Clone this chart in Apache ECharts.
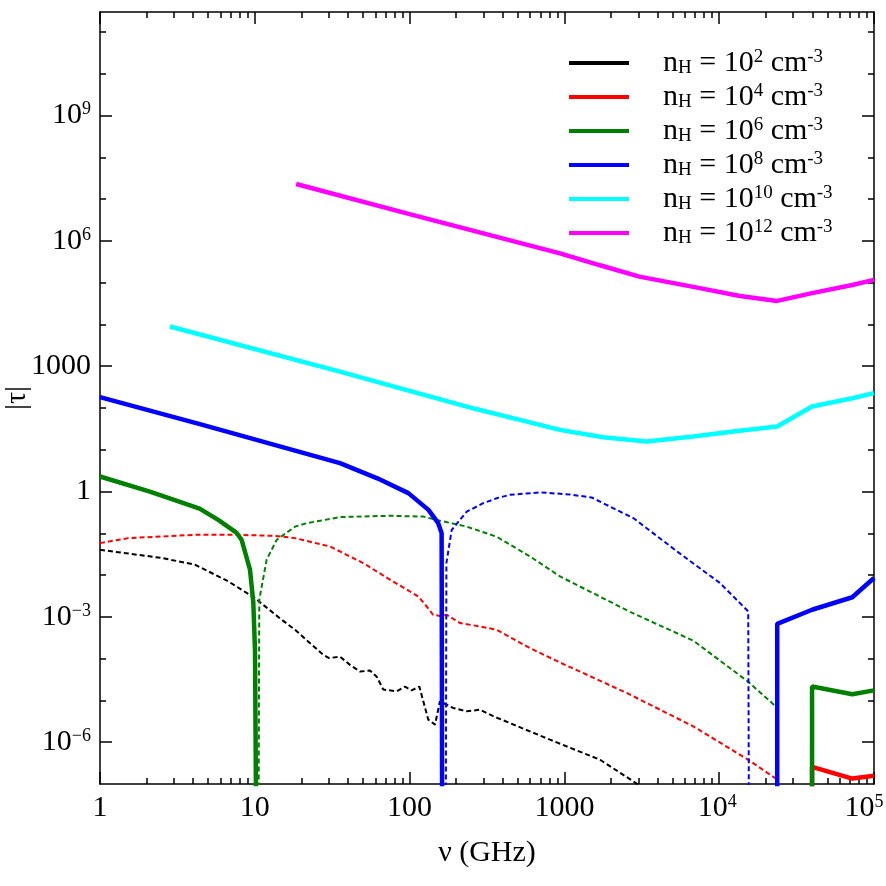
<!DOCTYPE html>
<html>
<head>
<meta charset="utf-8">
<script src="https://cdn.jsdelivr.net/npm/echarts@6/dist/echarts.min.js"></script>
<style>
  html, body { margin: 0; padding: 0; background: #fff; }
  #chart-container { width: 886px; height: 886px; }
</style>
</head>
<body>
<div id="chart-container"></div>
<script>
var FONT = '"Liberation Serif", "DejaVu Serif", serif';

// densities n_H = 10^exp cm^-3, one colour each
var densityExp = [2, 4, 6, 8, 10, 12];
var lineColors = ["#000000", "#ff0000", "#008000", "#0000ff", "#00ffff", "#ff00ff"];

// tick labels
var xMajorTicks = [1, 10, 100, 1000, 1e4, 1e5];
var xTickLabels = ["1", "10", "100", "1000", "10^4", "10^5"];
var yMajorTicks = [1e-6, 1e-3, 1, 1e3, 1e6, 1e9];
var yTickLabels = ["10^\u22126", "10^\u22123", "1", "1000", "10^6", "10^9"];

// |tau| against nu (GHz). "neg" parts (tau < 0) are dashed, "pos" parts solid
var n2neg = [[1, 0.0403], [2.5, 0.0257], [4.1, 0.0178], [6.74, 0.00708], [10, 0.00282],
  [14.5, 9.3e-4], [18.2, 4.9e-4], [27.7, 1.23e-4], [30.2, 1.03e-4], [35.5, 1.12e-4],
  [41.2, 7.1e-5], [47.9, 4.9e-5], [55.5, 5.2e-5], [61.3, 3.7e-5], [67.6, 1.82e-5],
  [82.6, 1.66e-5], [93.4, 2.14e-5], [103, 1.74e-5], [115.6, 2.14e-5], [132, 3.47e-6],
  [146, 2.63e-6], [157, 9.5e-6], [191, 6.6e-6], [234, 5.5e-6], [285, 6.0e-6],
  [347, 4.2e-6], [807, 1.15e-6], [1700, 3.8e-7], [2960, 1.0e-7], [4500, 3e-8]];

var n4neg = [[1, 0.0582], [1.52, 0.0767], [4.1, 0.092], [7.45, 0.092], [13.5, 0.087],
  [18.2, 0.0767], [30.6, 0.0483], [50.2, 0.0194], [74.7, 0.00776], [113.8, 0.00309],
  [128.8, 0.00178], [142, 0.00112], [158, 0.00105], [174, 0.00112], [212, 7.1e-4],
  [285, 5.9e-4], [365, 4.9e-4], [600, 1.78e-4], [937, 8.1e-5], [2525, 1.51e-5],
  [6800, 2.4e-6], [15400, 3.8e-7], [23000, 1.38e-7]];
var n4pos = [[39800, 1e-9], [39800, 2.57e-7], [72400, 1.35e-7], [1e5, 1.58e-7]];

var n6pos = [[1, 2.29], [2.1, 1.0], [4.4, 0.39], [5.8, 0.209], [7.64, 0.102], [8.23, 0.069],
  [9.31, 0.0135], [9.78, 0.0022], [10.03, 1.6e-4], [10.25, 1e-9]];
var n6neg = [[10.55, 1e-9], [10.69, 2.57e-3], [11.09, 5.4e-3], [11.93, 0.0234],
  [13.84, 0.0698], [18.2, 0.1445], [21.6, 0.174], [35.5, 0.245], [74.7, 0.263],
  [122.7, 0.251], [150, 0.209], [234, 0.1445], [365, 0.083], [600, 0.0279],
  [937, 9.3e-3], [2650, 1.32e-3], [6800, 2.7e-4], [15400, 2.8e-5], [23000, 7.4e-6]];
var n6pos2 = [[39800, 1e-9], [39800, 2.16e-5], [72400, 1.41e-5], [1e5, 1.74e-5]];

var n8pos = [[1, 182], [4.54, 39.8], [35.5, 4.79], [61.9, 2.07], [98.2, 0.916],
  [132.4, 0.364], [153, 0.175], [161, 0.101], [162.5, 1e-9]];
var n8neg = [[171, 1e-9], [172.9, 0.0195], [187, 0.12], [234, 0.331], [299, 0.525],
  [365, 0.69], [445, 0.834], [695, 0.955], [1087, 0.85], [1500, 0.72], [2800, 0.229],
  [5500, 0.034], [10100, 6.5e-3], [15400, 1.35e-3], [15600, 1e-9]];
var n8pos2 = [[23700, 1e-9], [23700, 6.8e-4], [39800, 1.48e-3], [72400, 2.95e-3], [1e5, 8.5e-3]];

var n10pos = [[2.83, 8900], [35.5, 741], [100, 257], [265, 95.5], [516, 52], [937, 29.9],
  [1780, 20], [3400, 15.7], [6800, 20.7], [12300, 27.2], [23700, 35.9], [39800, 108],
  [72400, 171], [1e5, 226]];

var n12pos = [[18.5, 2.29e7], [100, 4.37e6], [937, 5.0e5], [1700, 2.6e5], [3050, 1.39e5],
  [7500, 7.4e4], [13600, 4.8e4], [23700, 3.65e4], [39800, 5.6e4], [72400, 8.8e4], [1e5, 1.16e5]];

var curves = [
  { idx: 0, data: n2neg, dashed: true },
  { idx: 1, data: n4neg, dashed: true },
  { idx: 1, data: n4pos, dashed: false },
  { idx: 2, data: n6pos, dashed: false },
  { idx: 2, data: n6neg, dashed: true },
  { idx: 2, data: n6pos2, dashed: false },
  { idx: 3, data: n8pos, dashed: false },
  { idx: 3, data: n8neg, dashed: true },
  { idx: 3, data: n8pos2, dashed: false },
  { idx: 4, data: n10pos, dashed: false },
  { idx: 5, data: n12pos, dashed: false },
];

var names = densityExp.map(function (e) { return "n_H = 10^" + e + " cm^-3"; });

// minor ticks
var xMinorTicks = [];
for (var d = 0; d < 5; d++) {
  for (var k = 2; k < 10; k++) xMinorTicks.push(k * Math.pow(10, d));
}
var yMinorTicks = [];
for (var p = -5; p <= 11; p++) {
  if (p % 3 !== 0) yMinorTicks.push(Math.pow(10, p));
}

function tickLabel(ticks, labels, value, isX) {
  var i = 0;
  for (var j = 0; j < ticks.length; j++) {
    if (Math.abs(Math.log10(value) - Math.log10(ticks[j])) < 1e-6) i = j;
  }
  var s = labels[i];
  if (s.indexOf("^") < 0) return "{b|" + s + "}";
  var parts = s.split("^");
  var pad = "";
  if (isX) pad = i === ticks.length - 1 ? "{sp2| }" : "{sp| }";
  return "{b|" + parts[0] + "}{s|" + parts[1] + "}" + pad;
}

var labelRich = {
  b: { fontSize: 30, fontFamily: FONT, color: "#000" },
  s: { fontSize: 18, fontFamily: FONT, color: "#000", verticalAlign: "top" },
  sp: { width: 4 },
  sp2: { width: 20 },
};

var axisLineStyle = { color: "#000", width: 1.5 };

function xAx(pos, major) {
  return {
    type: "log", min: 1, max: 1e5, position: pos,
    splitLine: { show: false },
    axisLine: { show: major, onZero: false, lineStyle: axisLineStyle },
    axisTick: { show: true, inside: true, length: major ? 12 : 6,
      customValues: major ? xMajorTicks : xMinorTicks, lineStyle: axisLineStyle },
    axisLabel: { show: false },
  };
}
function yAx(pos, major) {
  return {
    type: "log", min: 1e-7, max: 3e11, position: pos,
    splitLine: { show: false },
    axisLine: { show: major, onZero: false, lineStyle: axisLineStyle },
    axisTick: { show: true, inside: true, length: major ? 12 : 6,
      customValues: major ? yMajorTicks : yMinorTicks, lineStyle: axisLineStyle },
    axisLabel: { show: false },
  };
}

var xAxes = [xAx("bottom", true), xAx("bottom", false), xAx("top", true), xAx("top", false)];
xAxes[0].axisLabel = {
  show: true, customValues: xMajorTicks, margin: 9,
  formatter: function (v) { return tickLabel(xMajorTicks, xTickLabels, v, true); },
  rich: labelRich,
};
xAxes[0].name = "\u03bd (GHz)";
xAxes[0].nameLocation = "middle";
xAxes[0].nameGap = 54;
xAxes[0].nameMoveOverlap = false;
xAxes[0].nameTextStyle = { fontFamily: FONT, fontSize: 30, color: "#000" };

var yAxes = [yAx("left", true), yAx("left", false), yAx("right", true), yAx("right", false)];
yAxes[0].axisLabel = {
  show: true, customValues: yMajorTicks, margin: 9,
  formatter: function (v) { return tickLabel(yMajorTicks, yTickLabels, v, false); },
  rich: labelRich,
};
yAxes[0].name = "|\u03c4|";
yAxes[0].nameLocation = "middle";
yAxes[0].nameGap = 68;
yAxes[0].nameMoveOverlap = false;
yAxes[0].nameTextStyle = { fontFamily: FONT, fontSize: 30, color: "#000" };

var series = curves.map(function (c) {
  return {
    type: "line",
    name: names[c.idx],
    data: c.data,
    xAxisIndex: 0, yAxisIndex: 0,
    symbol: "none", showSymbol: false,
    clip: true, silent: true,
    z: c.dashed ? 2 : 3,
    itemStyle: { color: lineColors[c.idx] },
    lineStyle: {
      color: lineColors[c.idx],
      width: c.dashed ? 2 : 4.5,
      type: c.dashed ? [5, 3] : "solid",
    },
    emphasis: { disabled: true },
  };
});

var dom = document.getElementById("chart-container");
var myChart = echarts.init(dom, null, { renderer: "canvas" });

var option = {
  animation: false,
  backgroundColor: "#fff",
  grid: { left: 100, right: 12, top: 12, bottom: 102, outerBoundsMode: "none" },
  xAxis: xAxes,
  yAxis: yAxes,
  legend: {
    data: names,
    orient: "vertical",
    left: 569, top: 48, padding: 0,
    icon: "rect",
    itemWidth: 60, itemHeight: 4, itemGap: 4,
    selectedMode: false,
    formatter: function (name) {
      var e = densityExp[names.indexOf(name)];
      return "{sp| }{a|n}{sub|H}{a| = 10}{sup|" + e + "}{a| cm}{sup|-3}";
    },
    textStyle: {
      color: "#000", fontFamily: FONT, fontSize: 30,
      rich: {
        sp: { width: 29 },
        a: { fontSize: 30, lineHeight: 30, fontFamily: FONT, color: "#000" },
        sub: { fontSize: 19, fontFamily: FONT, color: "#000", verticalAlign: "bottom" },
        sup: { fontSize: 19, fontFamily: FONT, color: "#000", verticalAlign: "top" },
      },
    },
  },
  series: series,
};

myChart.setOption(option);
window.addEventListener("resize", myChart.resize);
</script>
</body>
</html>
